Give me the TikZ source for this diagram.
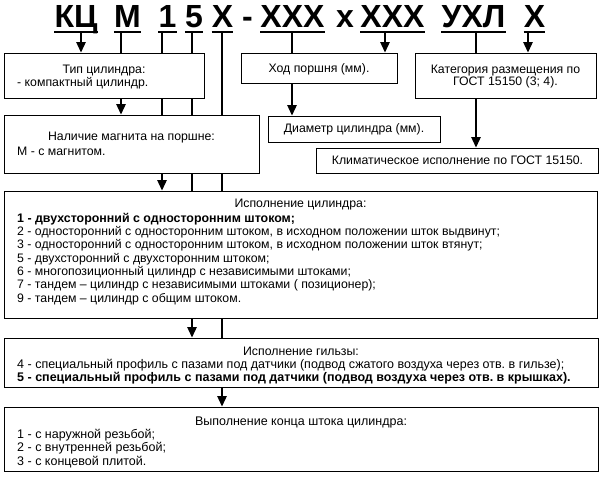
\documentclass[tikz,border=0pt]{standalone}
\usepackage{fontspec}
\setmainfont{Liberation Sans}
\usetikzlibrary{arrows.meta,fit}
\frenchspacing
\begin{document}
\begin{tikzpicture}[x=1pt,y=-1pt,
  box/.style={draw, line width=1pt, inner sep=0pt},
  ttl/.style={font=\fontsize{32}{32}\selectfont\bfseries, inner sep=0pt, anchor=base},
  fs/.style={font=\fontsize{#1}{#1}\selectfont\frenchspacing},
  txt/.style={fs=12.3, inner sep=0pt, anchor=base west},
  ctxt/.style={fs=12.3, inner sep=0pt, anchor=base},
  arr/.style={line width=1.3pt, -{Triangle[width=9.5pt,length=10.5pt]}},
  ln/.style={line width=1.3pt},
  ul/.style={line width=2.6pt}]
\useasboundingbox (0,0) rectangle (600,477);

% title
\node[ttl] (t1) at (76,27) {КЦ};
\node[ttl] (t2) at (127.5,27) {М};
\node[ttl] (t3) at (167.5,27) {1};
\node[ttl] (t4) at (194,27) {5};
\node[ttl] (t5) at (222.5,27) {Х};
\node[ttl] (t6) at (247.5,27) {-};
\node[ttl] (t7) at (292.5,27) {ХХХ};
\node[ttl] (t8) at (345,27) {х};
\node[ttl] (t9) at (392.5,27) {ХХХ};
\node[ttl] (t10) at (473.5,27) {УХЛ};
\node[ttl] (t11) at (534.5,27) {Х};
\foreach \t in {t1,t2,t3,t4,t5,t7,t9,t10,t11}
  \draw[ul] ([yshift=-5pt]\t.base west) -- ([yshift=-5pt]\t.base east);

% boxes
\node[box, fit={(4,53) (204,98)}] (b1) {};
\node[box, fit={(4,115) (259,173)}] (b2) {};
\node[box, fit={(4,191) (597,318)}] (b3) {};
\node[box, fit={(4,338) (598,387)}] (b4) {};
\node[box, fit={(4,407) (598,471)}] (b5) {};
\node[box, fit={(241,53) (397,83)}] (bh) {};
\node[box, fit={(268,116) (440,142)}] (bd) {};
\node[box, fit={(415,53) (596,98)}] (bk) {};
\node[box, fit={(316,148) (598.5,173)}] (bc) {};

% connector start points
\coordinate (c1) at (81,32);
\coordinate (c2) at (121,32);
\coordinate (c3) at (162,32);
\coordinate (c4) at (192,32);
\coordinate (c5) at (222,32);
\coordinate (c7) at (292,32);
\coordinate (c9) at (385,32);
\coordinate (c10) at (476,32);
\coordinate (c11) at (528,32);

\draw[arr] (c1) -- (c1 |- b1.north);
\draw[ln] (c2) -- (c2 |- b1.north);
\draw[arr] (c2 |- b1.south) -- (c2 |- b2.north);
\draw[ln] (c3) -- (c3 |- b1.north);
\draw[ln] (c3 |- b1.south) -- (c3 |- b2.north);
\draw[arr] (c3 |- b2.south) -- (c3 |- b3.north);
\draw[ln] (c4) -- (c4 |- b1.north);
\draw[ln] (c4 |- b1.south) -- (c4 |- b2.north);
\draw[ln] (c4 |- b2.south) -- (c4 |- b3.north);
\draw[arr] (c4 |- b3.south) -- (c4 |- b4.north);
\draw[ln] (c5) -- (c5 |- b2.north);
\draw[ln] (c5 |- b2.south) -- (c5 |- b3.north);
\draw[ln] (c5 |- b3.south) -- (c5 |- b4.north);
\draw[arr] (c5 |- b4.south) -- (c5 |- b5.north);
\draw[ln] (c7) -- (c7 |- bh.north);
\draw[arr] (c7 |- bh.south) -- (c7 |- bd.north);
\draw[arr] (c9) -- (c9 |- bh.north);
\draw[ln] (c10) -- (c10 |- bk.north);
\draw[arr] (c10 |- bk.south) -- (c10 |- bc.north);
\draw[arr] (c11) -- (c11 |- bk.north);

% texts
\node[ctxt] (x11) at (104,73.5) {Тип цилиндра:};
\node[txt] (x12) at (17,86.5) {- компактный цилиндр.};
\node[ctxt] (x21) at (131.5,140) {Наличие магнита на поршне:};
\node[txt] (x22) at (17,155) {М - с магнитом.};

\node[ctxt] (x30) at (300.5,207.5) {Исполнение цилиндра:};
\node[txt, fs=12.4] (x31) at (17,222) {\bfseries 1 - двухсторонний с односторонним штоком;};
\node[txt] (x32) at (17,235.3) {2 - односторонний с односторонним штоком, в исходном положении шток выдвинут;};
\node[txt] (x33) at (17,248.6) {3 - односторонний с односторонним штоком, в исходном положении шток втянут;};
\node[txt] (x34) at (17,262) {5 - двухсторонний с двухсторонним штоком;};
\node[txt] (x35) at (17,275.3) {6 - многопозиционный цилиндр с независимыми штоками;};
\node[txt] (x36) at (17,288.6) {7 - тандем – цилиндр с независимыми штоками ( позиционер);};
\node[txt] (x37) at (17,302) {9 - тандем – цилиндр с общим штоком.};

\node[ctxt] (x40) at (301,355) {Исполнение гильзы:};
\node[txt, fs=12.5] (x41) at (17,368) {4 - специальный профиль с пазами под датчики (подвод сжатого воздуха через отв. в гильзе);};
\node[txt, fs=12.5] (x42) at (17,381.5) {\bfseries 5 - специальный профиль с пазами под датчики (подвод воздуха через отв. в крышках).};

\node[ctxt, fs=12.5] (x50) at (301,425) {Выполнение конца штока цилиндра:};
\node[txt, fs=12.5] (x51) at (17,438) {1 - с наружной резьбой;};
\node[txt, fs=12.5] (x52) at (17,451.5) {2 - с внутренней резьбой;};
\node[txt, fs=12.5] (x53) at (17,465) {3 - с концевой плитой.};

\node[ctxt] (xh) at (319,72.5) {Ход поршня (мм).};
\node[ctxt] (xd) at (354,132.7) {Диаметр цилиндра (мм).};
\node[ctxt] (xk1) at (505.5,73.3) {Категория размещения по};
\node[ctxt] (xk2) at (505.5,85) {ГОСТ 15150 (3; 4).};
\node[ctxt] (xc) at (457.5,164.3) {Климатическое исполнение по ГОСТ 15150.};
\end{tikzpicture}
\end{document}
